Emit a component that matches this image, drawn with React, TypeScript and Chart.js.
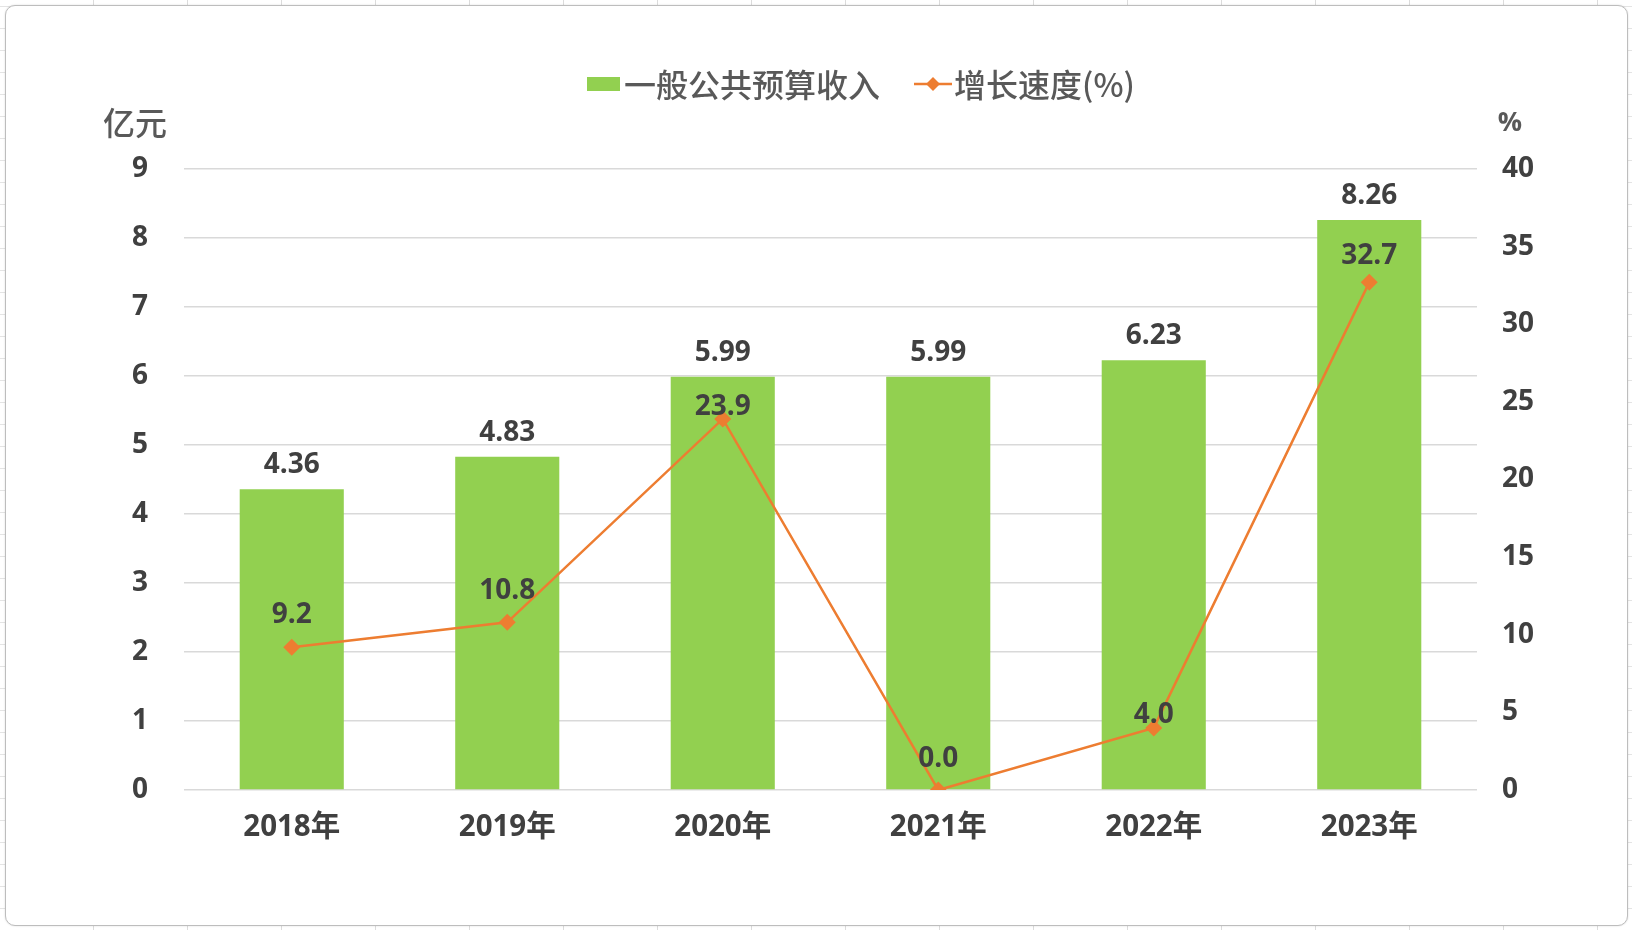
import React, { useEffect, useRef } from "react";
import { Chart, registerables } from "chart.js";

Chart.register(...registerables);

const categories = ["2018年", "2019年", "2020年", "2021年", "2022年", "2023年"];
const revenue = [4.36, 4.83, 5.99, 5.99, 6.23, 8.26];
const growth = [9.2, 10.8, 23.9, 0.0, 4.0, 32.7];
const revenueName = "一般公共预算收入";
const growthName = "增长速度(%)";
const leftTitle = "亿元";
const rightTitle = "%";
const leftMax = 9;
const leftStep = 1;
const rightMax = 40;
const rightStep = 5;

const revenueLabels = revenue.map((v) => v.toFixed(2));
const growthLabels = growth.map((v) => v.toFixed(1));

// label placement (vertical lift above each line point, in px)
const growthLabelLift = [32, 31, 12, 31, 13, 26];

const GREEN = "#92D050";
const ORANGE = "#ED7D31";
const TEXT = "#404040";
const LEGEND_TEXT = "#595959";
const FONT = '"Open Sans", "Noto Sans CJK SC", sans-serif';
const CJK = '"Noto Sans CJK SC", "Open Sans", sans-serif';

function diamond(ctx: CanvasRenderingContext2D, x: number, y: number, r: number) {
  ctx.beginPath();
  ctx.moveTo(x, y - r);
  ctx.lineTo(x + r, y);
  ctx.lineTo(x, y + r);
  ctx.lineTo(x - r, y);
  ctx.closePath();
  ctx.fill();
}

const decorPlugin = {
  id: "decor",
  afterDatasetsDraw(chart: any) {
    const ctx: CanvasRenderingContext2D = chart.ctx;
    ctx.save();
    ctx.font = `bold 28px ${FONT}`;
    ctx.fillStyle = TEXT;
    ctx.textAlign = "center";
    ctx.textBaseline = "middle";
    const barMeta = chart.getDatasetMeta(0);
    barMeta.data.forEach((el: any, i: number) => {
      ctx.fillText(revenueLabels[i], el.x, el.y - 24);
    });
    const lineMeta = chart.getDatasetMeta(1);
    lineMeta.data.forEach((el: any, i: number) => {
      ctx.fillText(growthLabels[i], el.x, el.y - growthLabelLift[i]);
    });
    ctx.restore();
  },
  afterDraw(chart: any) {
    const ctx: CanvasRenderingContext2D = chart.ctx;
    ctx.save();
    // axis titles
    ctx.fillStyle = LEGEND_TEXT;
    ctx.textBaseline = "middle";
    ctx.textAlign = "center";
    ctx.font = `500 32px ${CJK}`;
    ctx.fillText(leftTitle, 135, 123);
    ctx.font = `bold 27px ${FONT}`;
    ctx.fillText(rightTitle, 1510, 123);

    // legend
    const ly = 84;
    let x = 587;
    ctx.fillStyle = GREEN;
    ctx.fillRect(x, ly - 7, 33, 14);
    x += 37;
    ctx.font = `500 32px ${CJK}`;
    ctx.textAlign = "left";
    ctx.fillStyle = LEGEND_TEXT;
    ctx.fillText(revenueName, x, ly + 1);
    x += ctx.measureText(revenueName).width + 34;
    ctx.strokeStyle = ORANGE;
    ctx.lineWidth = 2.5;
    ctx.beginPath();
    ctx.moveTo(x, ly);
    ctx.lineTo(x + 38, ly);
    ctx.stroke();
    ctx.fillStyle = ORANGE;
    diamond(ctx, x + 19, ly, 7);
    x += 40;
    ctx.fillStyle = LEGEND_TEXT;
    ctx.fillText(growthName, x, ly + 1);
    ctx.restore();
  },
};

export default function App() {
  const ref = useRef<HTMLCanvasElement | null>(null);

  useEffect(() => {
    if (!ref.current) return;
    const chart = new Chart(ref.current, {
      type: "bar",
      data: {
        labels: categories,
        datasets: [
          {
            type: "bar",
            label: revenueName,
            data: revenue,
            backgroundColor: GREEN,
            borderWidth: 0,
            barPercentage: 0.483,
            categoryPercentage: 1,
            yAxisID: "y",
            order: 2,
          },
          {
            type: "line",
            label: growthName,
            data: growth,
            borderColor: ORANGE,
            backgroundColor: ORANGE,
            borderWidth: 2.5,
            pointStyle: "rectRot",
            pointRadius: 8.5,
            pointBackgroundColor: ORANGE,
            pointBorderColor: ORANGE,
            pointBorderWidth: 0,
            tension: 0,
            yAxisID: "y1",
            order: 1,
          } as any,
        ],
      },
      options: {
        animation: false,
        responsive: false,
        devicePixelRatio: 1,
        layout: { padding: { left: 0, right: 0, top: 169, bottom: 0 } },
        plugins: {
          legend: { display: false },
          tooltip: { enabled: false },
        },
        scales: {
          x: {
            grid: { display: false, drawTicks: false },
            border: { display: false },
            ticks: {
              padding: 20,
              color: TEXT,
              font: { family: FONT, size: 29.5, weight: "bold" },
            },
            afterFit: (s: any) => {
              s.height = 140;
            },
          },
          y: {
            position: "left",
            min: 0,
            max: leftMax,
            grid: { color: "#d9d9d9", lineWidth: 1.5, drawTicks: false },
            border: { display: false },
            ticks: {
              stepSize: leftStep,
              padding: 36,
              color: TEXT,
              font: { family: FONT, size: 28, weight: "bold" },
            },
            afterFit: (s: any) => {
              s.width = 184;
            },
          },
          y1: {
            position: "right",
            min: 0,
            max: rightMax,
            grid: { display: false, drawTicks: false },
            border: { display: false },
            ticks: {
              stepSize: rightStep,
              padding: 25,
              color: TEXT,
              font: { family: FONT, size: 28, weight: "bold" },
            },
            afterFit: (s: any) => {
              s.width = 155;
            },
          },
        },
      } as any,
      plugins: [decorPlugin],
    });
    return () => chart.destroy();
  }, []);

  return (
    <div
      style={{
        position: "absolute",
        left: 0,
        top: 0,
        width: 1632,
        height: 930,
        overflow: "hidden",
        background: "#ffffff",
        backgroundImage:
          "repeating-linear-gradient(90deg, transparent 0 93px, #dcdcdc 93px 94px), repeating-linear-gradient(0deg, transparent 0 21px, #e4e4e4 21px 22px)",
      }}
    >
      <div
        style={{
          position: "absolute",
          left: 5,
          top: 5,
          width: 1621,
          height: 919,
          background: "#ffffff",
          border: "1px solid #bdbdbd",
          borderRadius: 10,
          boxShadow: "0 0 2px rgba(0,0,0,0.15)",
        }}
      />
      <canvas
        ref={ref}
        width={1632}
        height={930}
        style={{ position: "absolute", left: 0, top: 0, width: 1632, height: 930 }}
      />
    </div>
  );
}
